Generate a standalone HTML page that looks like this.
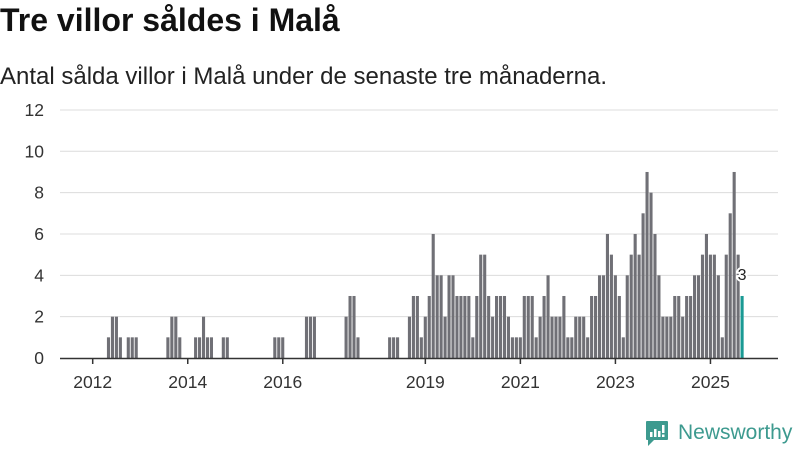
<!DOCTYPE html>
<html><head><meta charset="utf-8"><style>
body{margin:0;width:800px;height:450px;background:#fff;overflow:hidden;font-family:"Liberation Sans",sans-serif;position:relative}
h1{position:absolute;left:0;top:2px;margin:0;font-size:32px;font-weight:bold;color:#111;line-height:36px}
.sub{position:absolute;left:0;top:63px;font-size:24px;color:#222;line-height:28px}
svg{position:absolute;left:0;top:0}
</style></head><body>
<h1>Tre villor såldes i Malå</h1>
<div class="sub">Antal sålda villor i Malå under de senaste tre månaderna.</div>
<svg id="c" width="800" height="450"></svg>
<script>
const months=[4,5,6,7,9,10,11,19,20,21,22,26,27,28,29,30,33,34,46,47,48,54,55,56,64,65,66,67,75,76,77,
80,81,82,83,84,85,86,87,88,89,90,91,92,93,94,95,96,97,98,99,100,101,102,103,104,105,106,107,108,109,110,111,112,113,114,115,116,117,118,119,120,121,122,123,124,125,
126,127,128,129,130,131,132,133,134,135,136,137,138,139,140,141,142,143,144,145,146,147,148,149,150,151,152,153,154,155,156,157,158,159,160,161,162,163,164];
const values=[1,2,2,1,1,1,1,1,2,2,1,1,1,2,1,1,1,1,1,1,1,2,2,2,2,3,3,1,1,1,1,
2,3,3,1,2,3,6,4,4,2,4,4,3,3,3,3,1,3,5,5,3,2,3,3,3,2,1,1,1,3,3,3,1,2,3,4,2,2,2,3,1,1,2,2,2,1,
3,3,4,4,6,5,4,3,1,4,5,6,5,7,9,8,6,4,2,2,2,3,3,2,3,3,4,4,5,6,5,5,4,1,5,7,9,5,3];
const yTicks=[0,2,4,6,8,10,12];
const xTickYears=[2012,2014,2016,2019,2021,2023,2025];
const NS='http://www.w3.org/2000/svg',svg=document.getElementById('c');
const x0=92.7,pm=3.96,yb=358,pu=20.67;
const xs=m=>x0+m*pm, ys=v=>yb-v*pu;
function mk(t,a){const e=document.createElementNS(NS,t);for(const k in a)e.setAttribute(k,a[k]);svg.appendChild(e);return e;}
yTicks.forEach(v=>{
 if(v>0){const g=mk('line',{x1:60,x2:778,y1:ys(v),y2:ys(v),stroke:'#dcdcdc','stroke-width':1});
 
 }
 const t=mk('text',{x:44,y:ys(v)+6,'text-anchor':'end','font-size':17.5,fill:'#333','font-family':'Liberation Sans, sans-serif'});
 t.textContent=v;
 
 
});
months.forEach((m,i)=>{
 const last=i===months.length-1;
 const r=mk('rect',{x:xs(m)-1.6,y:ys(values[i]),width:3.1,height:values[i]*pu,fill:last?'#1a9a94':'#707076'});
 
 
});
const ax=mk('line',{x1:60,x2:778,y1:yb+0.5,y2:yb+0.5,stroke:'#333','stroke-width':1.5});


xTickYears.forEach(y=>{
 const x=xs((y-2012)*12);
 const l=mk('line',{x1:x,x2:x,y1:yb,y2:yb+6,stroke:'#333','stroke-width':1.5});
 
 
 const t=mk('text',{x:x,y:388,'text-anchor':'middle','font-size':17.5,fill:'#333','font-family':'Liberation Sans, sans-serif'});
 t.textContent=y;
 
 
});
const li=months.length-1;
const lb=mk('text',{x:xs(months[li]),y:ys(values[li])-16,'text-anchor':'middle','font-size':16,fill:'#222',stroke:'#fff','stroke-width':4,'paint-order':'stroke','font-family':'Liberation Sans, sans-serif'});
lb.textContent=values[li];


</script>
<div style="position:absolute;left:645px;top:419px;height:28px;display:flex;align-items:center">
 <svg width="24" height="27" viewBox="0 0 24 27" style="position:static"><path d="M2 1h20a1 1 0 0 1 1 1v17a1 1 0 0 1-1 1H9l-6 6v-6H2a1 1 0 0 1-1-1V2a1 1 0 0 1 1-1z" fill="#3d9a8f"/><rect x="5" y="12" width="2.5" height="5" fill="#fff"/><rect x="9" y="9" width="2.5" height="8" fill="#fff"/><rect x="13" y="11" width="2.5" height="6" fill="#fff"/><rect x="17" y="5" width="2.5" height="8" fill="#fff"/><rect x="17" y="14.5" width="2.5" height="2.5" fill="#fff"/></svg>
 <span style="margin-left:9px;font-size:21px;color:#3d9a8f;font-family:'Liberation Sans',sans-serif">Newsworthy</span>
</div>
</body></html>
